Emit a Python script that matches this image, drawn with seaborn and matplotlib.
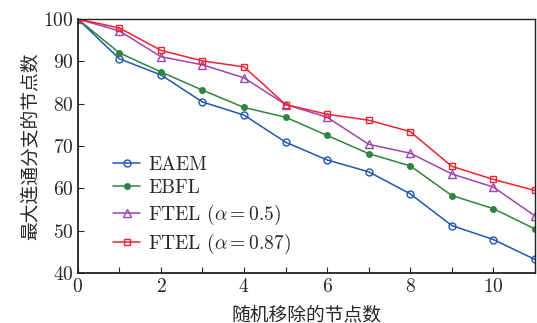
import numpy as np
import pandas as pd
import seaborn as sns
import matplotlib.pyplot as plt
from matplotlib.ticker import MultipleLocator

# 数据
removed = list(range(12))
eaem = [100, 90.6, 86.8, 80.4, 77.3, 70.9, 66.7, 63.9, 58.7, 51.2, 47.9, 43.2]
ebfl = [100, 92.0, 87.5, 83.2, 79.1, 76.8, 72.5, 68.2, 65.3, 58.3, 55.2, 50.4]
ftel_05 = [100, 97.2, 91.1, 89.2, 86.1, 79.8, 76.8, 70.4, 68.3, 63.4, 60.3, 53.5]
ftel_087 = [100, 97.9, 92.6, 90.1, 88.7, 79.8, 77.5, 76.1, 73.4, 65.2, 62.1, 59.5]

names = ['EAEM', 'EBFL', r'FTEL ($\alpha=0.5$)', r'FTEL ($\alpha=0.87$)']
series = [eaem, ebfl, ftel_05, ftel_087]
colors = ['#1f56b4', '#2e8540', '#9b45b0', '#f5222d']
markers = ['o', 'o', '^', 's']
msizes = [5, 4, 6, 5]
filled = [False, True, False, False]

sns.set_style('ticks')
plt.rcParams['font.family'] = ['cmr10', 'Noto Sans CJK SC']
plt.rcParams['mathtext.fontset'] = 'cm'
plt.rcParams['axes.formatter.use_mathtext'] = True

fig = plt.figure(figsize=(5.37, 3.23), dpi=100)
ax = fig.add_axes([0.145, 0.155, 0.851, 0.786])

for name, vals, c, m, ms, f in zip(names, series, colors, markers, msizes, filled):
    df = pd.DataFrame({'x': removed, 'y': vals})
    sns.lineplot(data=df, x='x', y='y', ax=ax, color=c, lw=1.1, marker=m,
                 markersize=ms, markerfacecolor=c if f else 'none',
                 markeredgecolor=c, markeredgewidth=1.0, label=name)

ax.set_xlim(0, 11)
ax.set_ylim(40, 100)
ax.xaxis.set_major_locator(MultipleLocator(2))
ax.xaxis.set_minor_locator(MultipleLocator(1))
ax.yaxis.set_major_locator(MultipleLocator(10))
ax.tick_params(axis='both', which='both', direction='in', length=4, width=0.8,
               labelsize=14, top=False, right=False)
ax.tick_params(axis='x', pad=4)
ax.tick_params(axis='y', pad=3)
for s in ax.spines.values():
    s.set_linewidth(1.0)
    s.set_color('#222222')
ax.spines['left'].set_linewidth(1.3)
ax.spines['bottom'].set_linewidth(1.3)

ax.set_xlabel('随机移除的节点数', fontsize=13.5, labelpad=7)
ax.set_ylabel('最大连通分支的节点数', fontsize=13.5, labelpad=3)

ax.legend(loc='lower left', bbox_to_anchor=(0.06, 0.035), frameon=False,
          fontsize=14, handlelength=1.4, handletextpad=0.4, labelspacing=0.28,
          borderaxespad=0)

fig.savefig('out.png', dpi=100)
